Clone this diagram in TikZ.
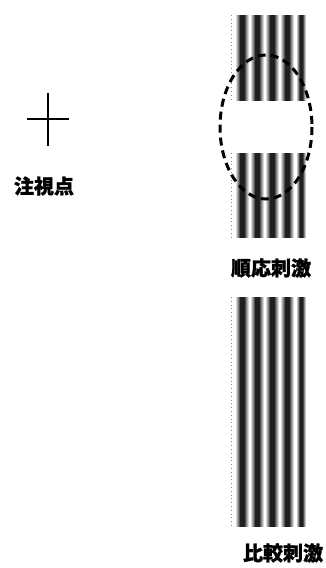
\documentclass[tikz,border=0pt]{standalone}
\usepackage{fontspec}
\newfontfamily\cjk{Noto Sans CJK JP}[FakeBold=1.2]
\pgfdeclarehorizontalshading{stripeshade}{100bp}{color(0bp)=(white); color(25bp)=(white); color(34bp)=(black!40); color(43bp)=(black!88); color(57bp)=(black!88); color(66bp)=(black!40); color(75bp)=(white); color(100bp)=(white)}
\begin{document}
\begin{tikzpicture}[x=1pt,y=-1pt,
  lbl/.style={font=\cjk\bfseries\fontsize{20}{20}\selectfont, inner sep=0pt},
  stripe/.style={shading=stripeshade},
  faint/.style={black!45, line width=0.7pt, dash pattern=on 0.8pt off 3pt},
  fixline/.style={line width=2pt},
  ring/.style={line width=3pt, dash pattern=on 8pt off 5pt}
]
\useasboundingbox (0,0) rectangle (325,568);
\newcommand\gratingband[2]{%
  \foreach \c in {242,257,272,287} \shade[stripe] (\c-7,#1) rectangle (\c+7,#2);
  \shade[stripe] (296,#1) rectangle (306,#2);
  \draw[faint] (231,#1) -- (231,#2);
}
% adaptation stimulus
\gratingband{15}{100}
\gratingband{153}{237}
% comparison stimulus
\gratingband{297}{526}
% dashed ellipse
\draw[ring] (266,127) ellipse [x radius=46, y radius=72];
% fixation cross
\coordinate (ch1) at (27,119);
\coordinate (ch2) at (69,119);
\coordinate (cv1) at (48,93);
\coordinate (cv2) at (48,146);
\draw[fixline] (ch1) -- (ch2);
\draw[fixline] (cv1) -- (cv2);
% labels
\node[lbl] (fix) at (44,186) {注視点};
\node[lbl] (adapt) at (271,268) {順応刺激};
\node[lbl] (comp) at (283,553) {比較刺激};
\end{tikzpicture}
\end{document}
